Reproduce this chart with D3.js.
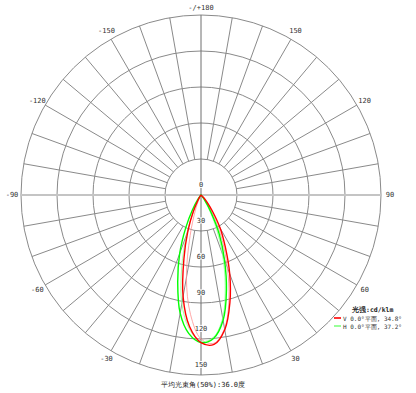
<!DOCTYPE html>
<html><head><meta charset="utf-8">
<script src="https://cdn.jsdelivr.net/npm/d3@7"></script>
<style>
html,body{margin:0;padding:0;background:#fff;}
svg{display:block;}
text{font-family:"DejaVu Sans Mono","Liberation Mono",monospace;}
</style></head>
<body><svg id="c" width="416" height="393"></svg>
<script>
// ---- data ----
const angles = [-45,-40,-35,-30,-25,-20,-15,-10,-5,0,5,10,15,20,25,30,35,40,45,50,55,60];
const vValues = [0,0,1,5,15,32,55,86,110,123,125,114,93,70,48,32,17,8,3,0,0,0];
const hValues = [0,1,5,14,30,52,75,100,116,123,120,106,82,57,36,17,6,1,0,0,0,0];
const vThin   = [0,0,0,0,4,14,35,70,100,120,124,113,90,64,42,24,11,3,0,0,0,0];
const hThin   = [0,0,0,5,14,35,62,92,112,122,119,104,78,52,29,12,3,0,0,0,0,0];
const ringValues = [0,30,60,90,120,150];
const angleTicks = [-150,-120,-90,-60,-30,30,60,90,120,150];
const topLabel = "-/+180";
const legendTitle = "光强:cd/klm";
const seriesNames = ["V 0.0°平面, 34.8°","H 0.0°平面, 37.2°"];
const footer = "平均光束角(50%):36.0度";

// ---- layout ----
const svg = d3.select("#c");
const cx = 201, cy = 195, R = 180, r0 = 36;
const r = d3.scaleLinear().domain([0,150]).range([0,150*1.2]);
const rad = a => (180 - a) * Math.PI / 180;
const g = svg.append("g").attr("transform",`translate(${cx},${cy})`);

// rings (inner circle at 30)
ringValues.filter(v=>v>0).forEach(v=>{
  g.append("circle").attr("r", r(v)).attr("fill","none").attr("stroke","#8a8a8a").attr("stroke-width",1);
});
// spokes every 10 degrees from inner ring
d3.range(-170,181,10).forEach(a=>{
  if (a===90||a===-90||a===0||a===180) return;
  const t = rad(a);
  g.append("line")
    .attr("x1", r(30)*Math.sin(t)).attr("y1", -r(30)*Math.cos(t))
    .attr("x2", R*Math.sin(t)).attr("y2", -R*Math.cos(t))
    .attr("stroke","#8a8a8a").attr("stroke-width",1);
});
// horizontal axis (light gray, thick)
g.append("line").attr("x1",-R).attr("x2",R).attr("y1",0).attr("y2",0)
  .attr("stroke","#c4c4c4").attr("stroke-width",2.2);
// vertical axis
g.append("line").attr("x1",0).attr("x2",0).attr("y1",-R).attr("y2",R)
  .attr("stroke","#6e6e6e").attr("stroke-width",1);

// intensity labels
ringValues.forEach(v=>{
  g.append("text").attr("x",0).attr("y", r(v)-10)
    .attr("text-anchor","middle").attr("dominant-baseline","central")
    .attr("font-size",7).attr("fill","#333")
    .attr("stroke","#fff").attr("stroke-width",2).attr("paint-order","stroke")
    .text(v);
});
// angle labels
const rl = 189;
angleTicks.forEach(a=>{
  const t = rad(a);
  g.append("text").attr("x", rl*Math.sin(t)).attr("y", -rl*Math.cos(t))
    .attr("text-anchor","middle").attr("dominant-baseline","central")
    .attr("font-size",7).attr("fill","#333").text(a);
});
g.append("text").attr("x",0).attr("y",-187).attr("text-anchor","middle")
  .attr("dominant-baseline","central").attr("font-size",7).attr("fill","#333").text(topLabel);

// curves
const line = d3.lineRadial().angle(d=>rad(d[0])).radius(d=>r(d[1])).curve(d3.curveCatmullRomClosed);
const mk = vals => angles.map((a,i)=>[a,vals[i]]);
g.append("path").attr("d", line(mk(vThin))).attr("fill","none").attr("stroke","#ff9090").attr("stroke-width",0.8);
g.append("path").attr("d", line(mk(hThin))).attr("fill","none").attr("stroke","#90ff90").attr("stroke-width",0.8);
g.append("path").attr("d", line(mk(hValues))).attr("fill","none").attr("stroke","#00ff00").attr("stroke-width",1.4);
g.append("path").attr("d", line(mk(vValues))).attr("fill","none").attr("stroke","#ff0000").attr("stroke-width",1.4);

// legend
svg.append("text").attr("x",352).attr("y",310).attr("dominant-baseline","central")
  .attr("font-size",6.5).attr("font-weight","bold").attr("fill","#222").text(legendTitle);
const lc = ["#ff0000","#7fff7f"];
seriesNames.forEach((s,i)=>{
  const y = 318 + i*8;
  svg.append("line").attr("x1",334).attr("x2",341).attr("y1",y).attr("y2",y)
    .attr("stroke",lc[i]).attr("stroke-width",1.6);
  svg.append("text").attr("x",343).attr("y",y).attr("dominant-baseline","central")
    .attr("font-size",6).attr("fill","#333").text(s);
});
// footer
svg.append("text").attr("x",203).attr("y",385).attr("text-anchor","middle")
  .attr("dominant-baseline","central").attr("font-size",7).attr("fill","#222").text(footer);
</script></body></html>
